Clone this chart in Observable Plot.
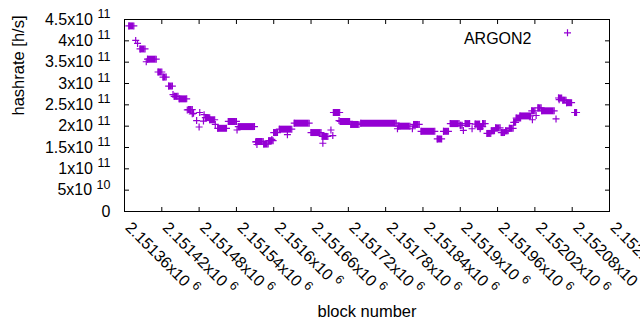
<!DOCTYPE html>
<html><head><meta charset="utf-8">
<script src="https://cdn.jsdelivr.net/npm/d3@7"></script>
<script src="https://cdn.jsdelivr.net/npm/@observablehq/plot@0.6"></script>
<style>html,body{margin:0;padding:0;background:#fff} svg{display:block}</style>
</head><body><div id="chart"></div>
<script>
// runs of consecutive blocks sharing one hashrate value (start == end for a single block)
const runStart = [2151367,2151378,2151381,2151385,2151395,2151397,2151414,2151422,2151431,2151438,2151440,2151448,2151461,2151463,2151469,2151471,2151476,2151480,2151481,2151487,2151488,2151490,2151497,2151506,2151510,2151527,2151541,2151543,2151571,2151572,2151573,2151584,2151592,2151597,2151600,2151609,2151622,2151633,2151660,2151678,2151679,2151692,2151695,2151696,2151705,2151707,2151724,2151740,2151799,2151800,2151823,2151825,2151837,2151863,2151873,2151884,2151900,2151905,2151908,2151919,2151924,2151928,2151932,2151936,2151943,2151950,2151957,2151966,2151973,2151979,2151986,2151990,2151996,2152016,2152015,2152022,2152025,2152031,2152054,2152058,2152059,2152065,2152071,2152084];
const runEnd   = [2151375,2151378,2151381,2151393,2151395,2151411,2151420,2151427,2151437,2151438,2151446,2151460,2151461,2151469,2151469,2151471,2151476,2151480,2151481,2151487,2151488,2151497,2151505,2151506,2151524,2151540,2151541,2151569,2151571,2151583,2151573,2151591,2151599,2151597,2151606,2151629,2151622,2151657,2151676,2151687,2151679,2151692,2151695,2151706,2151705,2151722,2151737,2151797,2151799,2151819,2151823,2151834,2151859,2151870,2151881,2151898,2151903,2151905,2151915,2151919,2151931,2151936,2151932,2151940,2151949,2151955,2151964,2151971,2151977,2151985,2151989,2151997,2152013,2152016,2152020,2152022,2152030,2152051,2152054,2152063,2152059,2152070,2152079,2152087];
const runRate  = [4.35e11,4.01e11,3.94e11,3.81e11,3.51e11,3.57e11,3.27e11,3.15e11,2.94e11,2.74e11,2.70e11,2.64e11,2.38e11,2.39e11,2.29e11,2.30e11,2.13e11,1.98e11,2.32e11,2.12e11,2.27e11,2.20e11,2.15e11,2.04e11,1.95e11,2.11e11,1.91e11,1.99e11,1.63e11,1.64e11,1.57e11,1.58e11,1.66e11,1.69e11,1.85e11,1.93e11,1.80e11,2.07e11,1.85e11,1.76e11,1.60e11,1.91e11,1.78e11,2.32e11,2.13e11,2.11e11,2.04e11,2.07e11,1.94e11,2.00e11,1.94e11,2.04e11,1.88e11,1.70e11,1.88e11,2.06e11,2.02e11,1.90e11,2.06e11,1.94e11,2.05e11,1.99e11,1.94e11,2.06e11,1.83e11,1.89e11,1.96e11,1.85e11,1.89e11,1.95e11,2.09e11,2.19e11,2.24e11,2.15e11,2.36e11,2.25e11,2.43e11,2.36e11,2.17e11,2.66e11,2.62e11,2.61e11,2.55e11,2.32e11];

const xTicks = [2151360,2151420,2151480,2151540,2151600,2151660,2151720,2151780,2151840,2151900,2151960,2152020,2152080,2152140];
const xTickLabels = ["2.15136x10^6","2.15142x10^6","2.15148x10^6","2.15154x10^6","2.1516x10^6","2.15166x10^6","2.15172x10^6","2.15178x10^6","2.15184x10^6","2.1519x10^6","2.15196x10^6","2.15202x10^6","2.15208x10^6","2.15214x10^6"];
const yTicks = [0,5e10,1e11,1.5e11,2e11,2.5e11,3e11,3.5e11,4e11,4.5e11];
const yTickLabels = ["0","5x10^10","1x10^11","1.5x10^11","2x10^11","2.5x10^11","3x10^11","3.5x10^11","4x10^11","4.5x10^11"];
const seriesName = "ARGON2";
const xTitle = "block number";
const yTitle = "hashrate [h/s]";

const purple = "#9400d3";
const font = "'Liberation Sans', Arial, sans-serif";
const runs = runStart.map((s, i) => ({start: s, end: runEnd[i], rate: runRate[i]}));
const marks = runs.flatMap(r => r.start === r.end ? [{x: r.start, y: r.rate}] : [{x: r.start, y: r.rate}, {x: r.end, y: r.rate}]);

const plus = {draw(c) { c.moveTo(-3.5, 0); c.lineTo(3.5, 0); c.moveTo(0, -3.5); c.lineTo(0, 3.5); }};
const tickUp = {draw(c) { c.moveTo(0, 0); c.lineTo(0, -4.5); }};
const tickDown = {draw(c) { c.moveTo(0, 0); c.lineTo(0, 4.5); }};
const tickRight = {draw(c) { c.moveTo(0, 0); c.lineTo(4.5, 0); }};
const tickLeft = {draw(c) { c.moveTo(0, 0); c.lineTo(-4.5, 0); }};

const fs = 16;
const svg = Plot.plot({
  width: 640, height: 330,
  marginLeft: 124, marginRight: 31, marginTop: 19, marginBottom: 119,
  style: {fontFamily: font, fontSize: fs + "px", color: "black", background: "white"},
  x: {domain: [2151360, 2152140], axis: null},
  y: {domain: [0, 4.5e11], axis: null},
  marks: [
    Plot.ruleY(runs, {y: "rate", x1: "start", x2: "end", stroke: purple, strokeWidth: 7}),
    Plot.dot(marks, {x: "x", y: "y", symbol: plus, fill: "none", stroke: purple, strokeWidth: 1.2}),
    Plot.frame({stroke: "black", strokeWidth: 1}),
    Plot.dot(xTicks, {x: d => d, frameAnchor: "bottom", symbol: tickUp, fill: "none", stroke: "black", strokeWidth: 1}),
    Plot.dot(xTicks, {x: d => d, frameAnchor: "top", symbol: tickDown, fill: "none", stroke: "black", strokeWidth: 1}),
    Plot.dot(yTicks, {y: d => d, frameAnchor: "left", symbol: tickRight, fill: "none", stroke: "black", strokeWidth: 1}),
    Plot.dot(yTicks, {y: d => d, frameAnchor: "right", symbol: tickLeft, fill: "none", stroke: "black", strokeWidth: 1}),
    Plot.text(yTicks, {y: d => d, text: (d, i) => yTickLabels[i], frameAnchor: "left", textAnchor: "end", dx: -14, fontSize: fs}),
    Plot.text(xTicks, {x: d => d, text: (d, i) => xTickLabels[i], frameAnchor: "bottom", rotate: 45, textAnchor: "start", lineAnchor: "bottom", dy: 17, fontSize: fs}),
    Plot.text([yTitle], {text: d => d, frameAnchor: "left", rotate: -90, dx: -106, fontSize: 16.5}),
    Plot.text([xTitle], {text: d => d, frameAnchor: "bottom", dy: 105.5, fontSize: 16.5}),
    Plot.text([seriesName], {text: d => d, frameAnchor: "top-right", textAnchor: "end", dx: -78, dy: 13.3, fontSize: 16}),
    Plot.dot([seriesName], {frameAnchor: "top-right", dx: -42, dy: 13.3, symbol: plus, fill: "none", stroke: purple, strokeWidth: 1.2})
  ]
});

const ns = "http://www.w3.org/2000/svg";
svg.querySelectorAll("text").forEach(t => {
  const m = t.textContent.match(/^(.*)\^(\d+)$/);
  if (!m) return;
  t.textContent = "";
  const a = document.createElementNS(ns, "tspan");
  a.textContent = m[1];
  const b = document.createElementNS(ns, "tspan");
  b.setAttribute("dx", "4.5");
  b.setAttribute("dy", "-6.5");
  b.setAttribute("font-size", "12.5");
  b.textContent = m[2];
  t.append(a, b);
});
document.getElementById("chart").append(svg);
</script>
</body></html>
